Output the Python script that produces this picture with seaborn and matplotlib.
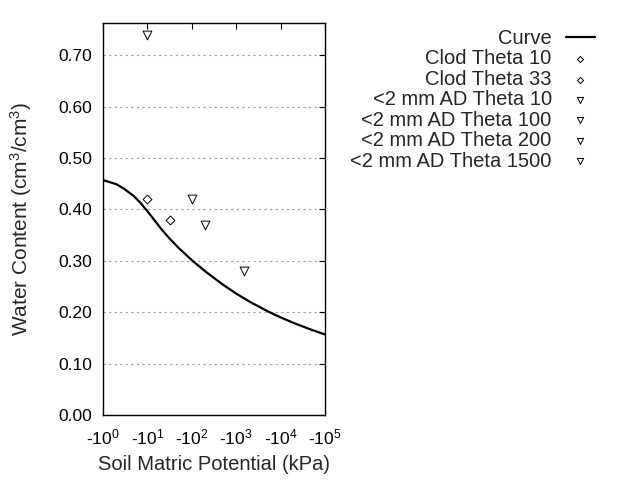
import matplotlib
matplotlib.use("Agg")
import matplotlib.pyplot as plt
import seaborn as sns
import pandas as pd
from matplotlib.ticker import FixedLocator, FixedFormatter

# ---- data ----
curve_h = [1, 2, 3, 5, 7, 10, 20, 30, 50, 100, 200, 500, 1000, 2000, 5000,
           10000, 20000, 50000, 100000]
curve_theta = [0.457, 0.449, 0.440, 0.4255, 0.4125, 0.3965, 0.363, 0.3454,
               0.3254, 0.3013, 0.2796, 0.2537, 0.2362, 0.2205, 0.2022, 0.1899,
               0.1788, 0.1657, 0.1567]

point_labels = ["Clod Theta 10", "Clod Theta 33", "<2 mm AD Theta 10",
                "<2 mm AD Theta 100", "<2 mm AD Theta 200", "<2 mm AD Theta 1500"]
point_h = [10, 33, 10, 100, 200, 1500]
point_theta = [0.42, 0.38, 0.74, 0.42, 0.37, 0.28]
point_markers = ["D", "D", "v", "v", "v", "v"]

x_ticks = [1, 10, 100, 1000, 10000, 100000]
x_tick_labels = ["-10$^{0}$", "-10$^{1}$", "-10$^{2}$", "-10$^{3}$", "-10$^{4}$", "-10$^{5}$"]
y_ticks = [0.0, 0.1, 0.2, 0.3, 0.4, 0.5, 0.6, 0.7]

# ---- style ----
sns.set_style("white")
plt.rcParams["font.family"] = ["Liberation Sans", "DejaVu Sans"]
plt.rcParams["mathtext.fontset"] = "custom"
plt.rcParams["mathtext.rm"] = "Liberation Sans"
plt.rcParams["mathtext.it"] = "Liberation Sans"

fig = plt.figure(figsize=(6.4, 4.8), dpi=100)
ax = fig.add_axes([103 / 640, 1 - 415 / 480, (325 - 103) / 640, (415 - 23) / 480])

curve_df = pd.DataFrame({"h": curve_h, "theta": curve_theta})
sns.lineplot(data=curve_df, x="h", y="theta", ax=ax, color="black",
             linewidth=1.6, label="Curve")

for lab, h, t, m in zip(point_labels, point_h, point_theta, point_markers):
    sz = 20 if m == "D" else 40
    sns.scatterplot(x=[h], y=[t], ax=ax, marker=m, s=sz, facecolor="white",
                    edgecolor="black", linewidth=0.7, label=lab, zorder=3)

ax.set_xscale("log")
ax.set_xlim(1, 100000)
ax.set_ylim(0, 0.7626)
ax.xaxis.set_major_locator(FixedLocator(x_ticks))
ax.xaxis.set_major_formatter(FixedFormatter(x_tick_labels))
ax.xaxis.set_minor_locator(FixedLocator([]))
ax.set_yticks(y_ticks)
ax.set_yticklabels([f"{v:.2f}" for v in y_ticks])

for v in y_ticks[1:]:
    ax.axhline(v, color="#a0a0a0", linewidth=0.8, linestyle=(0, (2, 3)), zorder=0)

ax.tick_params(axis="both", which="both", direction="in", length=4, width=0.8,
               top=True, right=True, labelsize=12.5, colors="black")
ax.tick_params(axis="x", pad=9)
ax.tick_params(axis="y", pad=8)
for sp in ax.spines.values():
    sp.set_color("black")
    sp.set_linewidth(1.0)

ax.set_xlabel("Soil Matric Potential (kPa)", fontsize=14.5)
ax.set_ylabel("Water Content (cm$^{3}$/cm$^{3}$)", fontsize=15)
ax.xaxis.set_label_coords(0.5, (415 - 455) / 392)
ax.yaxis.set_label_coords((34 - 103) / 222, 0.5)

leg = ax.legend(loc="upper right", bbox_to_anchor=(603 / 640, 1 - 21 / 480),
                bbox_transform=fig.transFigure, frameon=False, markerfirst=False,
                fontsize=14.5, labelspacing=0.07, handlelength=1.45,
                handletextpad=0.7, markerscale=0.7, borderaxespad=0)

fig.savefig("out.png", dpi=100)
